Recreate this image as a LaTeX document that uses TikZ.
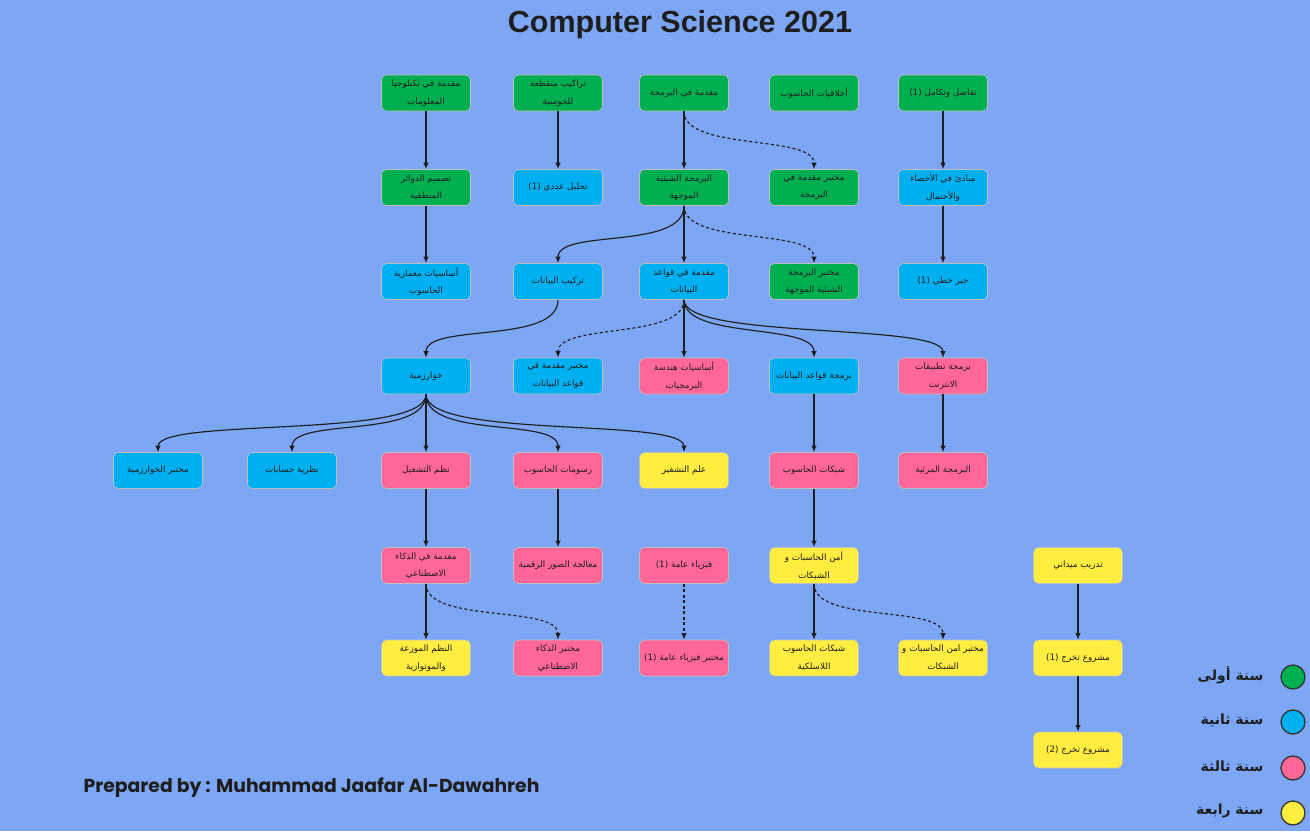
\documentclass[tikz,border=0pt]{standalone}
\usepackage{fontspec}
\usetikzlibrary{arrows.meta}
\setmainfont{Liberation Sans}
\newfontfamily\popfont{Poppins}
\newfontfamily\arabicfont[Script=Arabic]{DejaVu Sans}
\TeXXeTstate=1
\newcommand\myR[1]{\beginR #1\endR}
\newcommand\myL[1]{\beginL #1\endL{}}
\definecolor{bg}{RGB}{125,167,245}
\definecolor{cgreen}{RGB}{0,176,80}
\definecolor{cblue}{RGB}{0,176,240}
\definecolor{cpink}{RGB}{255,102,153}
\definecolor{cyellow}{RGB}{255,238,65}
\definecolor{ink}{RGB}{30,30,30}
\tikzset{
  x=1pt, y=-1pt,
  box/.style={rounded corners=5pt, minimum width=89pt, minimum height=36pt,
    inner sep=2pt, align=center, draw=black!25, line width=0.6pt, text=ink,
    font=\arabicfont\fontsize{8.8}{17.5}\selectfont},
  g/.style={box, fill=cgreen},
  b/.style={box, fill=cblue},
  p/.style={box, fill=cpink},
  yl/.style={box, fill=cyellow},
  arr/.style={-{Latex[length=6.5pt,width=5.5pt]}, line width=1.15pt, draw=ink},
  darr/.style={arr, dashed, dash pattern=on 3pt off 2.5pt},
  legc/.style={circle, minimum size=24pt, inner sep=0pt, draw=black!80, line width=1.3pt},
  legt/.style={anchor=east, text=ink, font=\arabicfont\bfseries\fontsize{14}{16}\selectfont},
}
\begin{document}
\begin{tikzpicture}
\fill[bg] (0,0) rectangle (1310,831);
\useasboundingbox (0,0) rectangle (1310,831);

\node[text=ink, font=\bfseries\fontsize{30.5}{34}\selectfont] (title) at (680,25) {Computer Science 2021};
\node[anchor=west, text=ink, font=\popfont\bfseries\fontsize{18.8}{22}\selectfont] (prep) at (80,788) {Prepared by : Muhammad Jaafar Al-Dawahreh};

% row 1
\node[g] (n13) at (426,93) {\myR{مقدمة في تكنلوجيا}\\\myR{المعلومات}};
\node[g] (n14) at (558,93) {\myR{تراكيب متقطعة}\\\myR{للحوسبة}};
\node[g] (n15) at (684,93) {\myR{مقدمة في البرمجة}};
\node[g] (n16) at (814,93) {\myR{أخلاقيات الحاسوب}};
\node[g] (n17) at (943,93) {\myR{تفاضل وتكامل \myL{(1)}}};
% row 2
\node[g] (n23) at (426,187.5) {\myR{تصميم الدوائر}\\\myR{المنطقية}};
\node[b] (n24) at (558,187.5) {\myR{تحليل عددي \myL{(1)}}};
\node[g] (n25) at (684,187.5) {\myR{البرمجة الشيئية}\\\myR{الموجهة}};
\node[g] (n26) at (814,187.5) {\myR{مختبر مقدمة في}\\\myR{البرمجة}};
\node[b] (n27) at (943,187.5) {\myR{مبادئ في الأحصاء}\\\myR{والأحتمال}};
% row 3
\node[b] (n33) at (426,281.5) {\myR{أساسيات معمارية}\\\myR{الحاسوب}};
\node[b] (n34) at (558,281.5) {\myR{تركيب البيانات}};
\node[b] (n35) at (684,281.5) {\myR{مقدمة في قواعد}\\\myR{البيانات}};
\node[g] (n36) at (814,281.5) {\myR{مختبر البرمجة}\\\myR{الشيئية الموجهة}};
\node[b] (n37) at (943,281.5) {\myR{جبر خطي \myL{(1)}}};
% row 4
\node[b] (n43) at (426,376) {\myR{خوارزمية}};
\node[b] (n44) at (558,376) {\myR{مختبر مقدمة في}\\\myR{قواعد البيانات}};
\node[p] (n45) at (684,376) {\myR{أساسيات هندسة}\\\myR{البرمجيات}};
\node[b] (n46) at (814,376) {\myR{برمجة قواعد البيانات}};
\node[p] (n47) at (943,376) {\myR{برمجة تطبيقات}\\\myR{الانترنت}};
% row 5
\node[b] (n51) at (158,470.5) {\myR{مختبر الخوارزمية}};
\node[b] (n52) at (292,470.5) {\myR{نظرية حسابات}};
\node[p] (n53) at (426,470.5) {\myR{نظم التشغيل}};
\node[p] (n54) at (558,470.5) {\myR{رسومات الحاسوب}};
\node[yl] (n55) at (684,470.5) {\myR{علم التشفير}};
\node[p] (n56) at (814,470.5) {\myR{شبكات الحاسوب}};
\node[p] (n57) at (943,470.5) {\myR{البرمجة المرئية}};
% row 6
\node[p] (n63) at (426,565.5) {\myR{مقدمة في الذكاء}\\\myR{الاصطناعي}};
\node[p] (n64) at (558,565.5) {\myR{معالجة الصور الرقمية}};
\node[p] (n65) at (684,565.5) {\myR{فيزياء عامة \myL{(1)}}};
\node[yl] (n66) at (814,565.5) {\myR{أمن الحاسبات و}\\\myR{الشبكات}};
\node[yl] (n68) at (1078,565.5) {\myR{تدريب ميداني}};
% row 7
\node[yl] (n73) at (426,658) {\myR{النظم الموزعة}\\\myR{والموتوازية}};
\node[p] (n74) at (558,658) {\myR{مختبر الذكاء}\\\myR{الاصطناعي}};
\node[p] (n75) at (684,658) {\myR{مختبر فيزياء عامة \myL{(1)}}};
\node[yl] (n76) at (814,658) {\myR{شبكات الحاسوب}\\\myR{اللاسلكية}};
\node[yl] (n77) at (943,658) {\myR{مختبر امن الحاسبات و}\\\myR{الشبكات}};
\node[yl] (n78) at (1078,658) {\myR{مشروع تخرج \myL{(1)}}};
% row 8
\node[yl] (n88) at (1078,750) {\myR{مشروع تخرج \myL{(2)}}};

% edges
\draw[arr] (n13) -- (n23);
\draw[arr] (n14) -- (n24);
\draw[arr] (n15) -- (n25);
\draw[arr] (n17) -- (n27);
\draw[darr] (n15.south) .. controls +(0,40) and +(0,-35) .. (n26.north);
\draw[arr] (n23) -- (n33);
\draw[arr] (n25.south) .. controls +(0,45) and +(0,-35) .. (n34.north);
\draw[arr] (n25) -- (n35);
\draw[darr] (n25.south) .. controls +(0,40) and +(0,-35) .. (n36.north);
\draw[arr] (n27) -- (n37);
\draw[arr] (n34.south) .. controls +(0,45) and +(0,-35) .. (n43.north);
\draw[darr] (n35.south) .. controls +(0,40) and +(0,-35) .. (n44.north);
\draw[arr] (n35) -- (n45);
\draw[arr] (n35.south) .. controls +(0,40) and +(0,-35) .. (n46.north);
\draw[arr] (n35.south) .. controls +(0,40) and +(0,-35) .. (n47.north);
\draw[arr] (n43.south) .. controls +(0,45) and +(0,-35) .. (n51.north);
\draw[arr] (n43.south) .. controls +(0,45) and +(0,-35) .. (n52.north);
\draw[arr] (n43) -- (n53);
\draw[arr] (n43.south) .. controls +(0,45) and +(0,-35) .. (n54.north);
\draw[arr] (n43.south) .. controls +(0,45) and +(0,-35) .. (n55.north);
\draw[arr] (n46) -- (n56);
\draw[arr] (n47) -- (n57);
\draw[arr] (n53) -- (n63);
\draw[arr] (n54) -- (n64);
\draw[arr] (n56) -- (n66);
\draw[arr] (n63) -- (n73);
\draw[darr] (n63.south) .. controls +(0,40) and +(0,-35) .. (n74.north);
\draw[darr] (n65) -- (n75);
\draw[arr] (n66) -- (n76);
\draw[darr] (n66.south) .. controls +(0,40) and +(0,-35) .. (n77.north);
\draw[arr] (n68) -- (n78);
\draw[arr] (n78) -- (n88);

% legend
\node[legc, fill=cgreen] (c1) at (1293,677) {};
\node[legc, fill=cblue] (c2) at (1293,722) {};
\node[legc, fill=cpink] (c3) at (1293,768) {};
\node[legc, fill=cyellow] (c4) at (1293,813) {};
\node[legt] (l1) at (1267,675) {\myR{سنة أولى}};
\node[legt] (l2) at (1267,720) {\myR{سنة ثانية}};
\node[legt] (l3) at (1267,766) {\myR{سنة ثالثة}};
\node[legt] (l4) at (1267,811) {\myR{سنة رابعة}};
\end{tikzpicture}
\end{document}
